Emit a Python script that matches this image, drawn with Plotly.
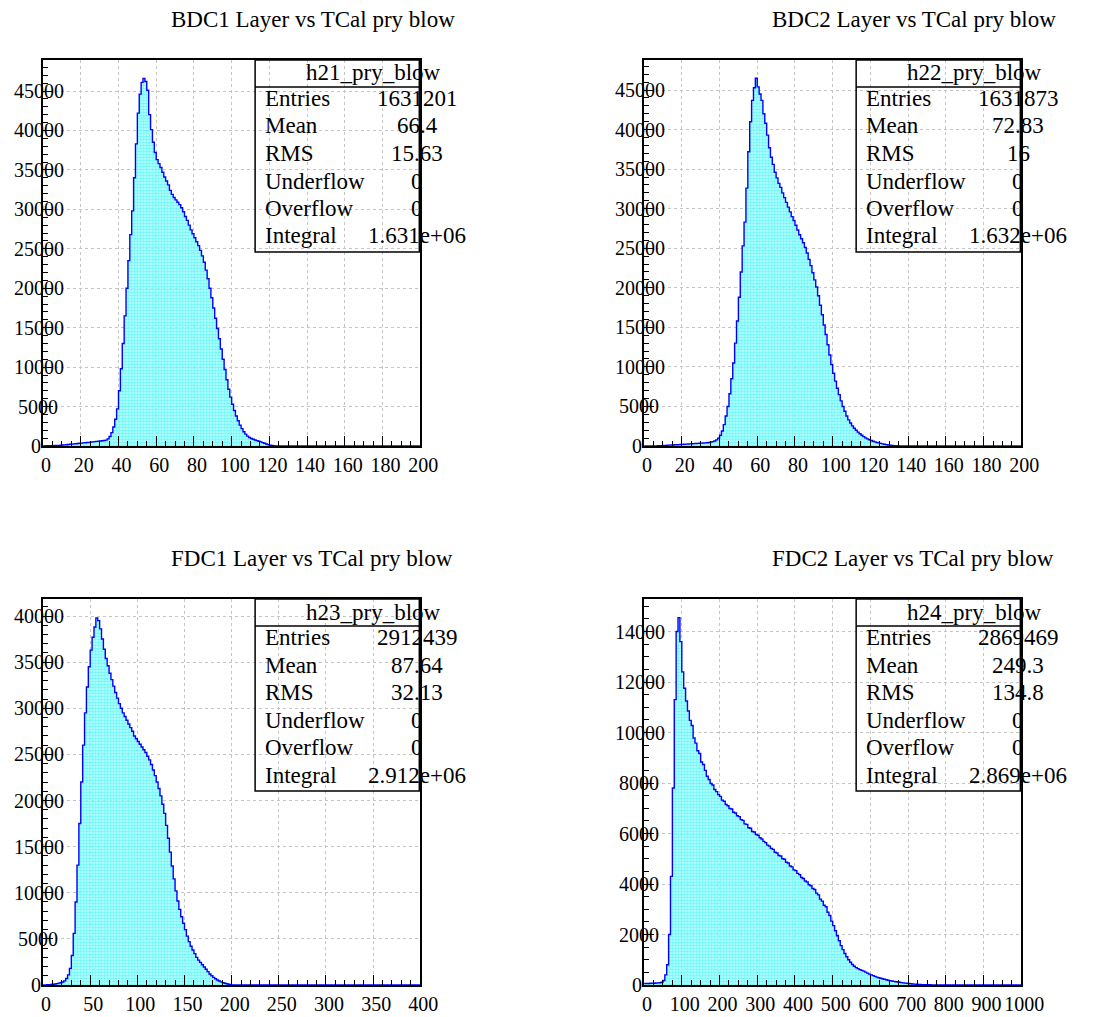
import plotly.graph_objects as go

W, H = 1101, 1017

# ---------------- histogram contents ----------------
# BDC1: 200 bins of width 1 over [0, 200)
bdc1_counts = [
    20, 25, 30, 35, 40, 50, 60, 70, 85, 100,
    120, 140, 165, 190, 215, 240, 265, 290, 315, 340,
    365, 390, 415, 440, 465, 490, 520, 550, 580, 620,
    640, 660, 690, 740, 900, 1200, 1700, 2400, 3400, 4700,
    7000, 9800, 13000, 16500, 20000, 23500, 26800, 29800, 34000, 38300,
    42200, 44600, 46100, 46600, 46200, 45100, 42000, 40100, 38500, 37200,
    36300, 35800, 35300, 34700, 34100, 33600, 33100, 32400, 31900, 31500,
    31200, 30900, 30600, 30200, 29700, 29100, 28600, 28000, 27400, 26900,
    26400, 25900, 25400, 24800, 24100, 23300, 22300, 21200, 20000, 18800,
    17500, 16200, 14900, 13600, 12300, 11000, 9700, 8400, 7200, 6200,
    5300, 4500, 3800, 3200, 2650, 2200, 1800, 1500, 1250, 1080,
    950, 850, 760, 680, 600, 520, 430, 340, 250, 170,
    100, 55, 30, 15, 8, 5, 3, 2, 1, 0,
    0, 0, 0, 0, 0, 0, 0, 0, 0, 0,
    0, 0, 0, 0, 0, 0, 0, 0, 0, 0,
    0, 0, 0, 0, 0, 0, 0, 0, 0, 0,
    0, 0, 0, 0, 0, 0, 0, 0, 0, 0,
    0, 0, 0, 0, 0, 0, 0, 0, 0, 0,
    0, 0, 0, 0, 0, 0, 0, 0, 0, 0,
    0, 0, 0, 0, 0, 0, 0, 0, 0, 0,
]

# BDC2: 200 bins of width 1 over [0, 200)
bdc2_counts = [
    0, 0, 0, 5, 10, 15, 20, 30, 40, 50,
    60, 75, 90, 105, 120, 135, 150, 165, 180, 195,
    210, 225, 240, 255, 270, 285, 300, 315, 330, 345,
    360, 380, 400, 420, 450, 490, 550, 640, 780, 1000,
    1350, 1900, 2700, 3800, 5000, 6600, 8500, 10500, 13000, 15800,
    18800, 22000, 25300, 28300, 32600, 37200, 41000, 43700, 45300, 46500,
    45400, 44500, 43700, 42000, 40800, 39300, 37700, 36500, 35600, 34600,
    33900, 33200, 32700, 32000, 31400, 30800, 30200, 29600, 29000, 28500,
    27900, 27300, 26700, 26200, 25700, 25100, 24400, 23600, 22800, 21900,
    21000, 20100, 19000, 17800, 16600, 15300, 14100, 12800, 11500, 10300,
    9200, 8200, 7300, 6500, 5700, 5000, 4400, 3800, 3300, 2900,
    2550, 2250, 2000, 1750, 1550, 1350, 1180, 1030, 900, 790,
    690, 600, 520, 450, 390, 330, 270, 220, 170, 130,
    95, 65, 40, 25, 15, 8, 4, 2, 1, 0,
    0, 0, 0, 0, 0, 0, 0, 0, 0, 0,
    0, 0, 0, 0, 0, 0, 0, 0, 0, 0,
    0, 0, 0, 0, 0, 0, 0, 0, 0, 0,
    0, 0, 0, 0, 0, 0, 0, 0, 0, 0,
    0, 0, 0, 0, 0, 0, 0, 0, 0, 0,
    0, 0, 0, 0, 0, 0, 0, 0, 0, 0,
]

# FDC1: 200 bins of width 2 over [0, 400)
fdc1_counts = [
    0, 0, 20, 40, 60, 80, 110, 150, 200, 250,
    320, 450, 700, 1100, 1800, 3200, 5600, 9000, 13000, 17500,
    22000, 26000, 29500, 32300, 34500, 36300, 37700, 38800, 39800, 39500,
    38600, 37500, 36400, 35400, 34600, 33800, 33100, 32400, 31700, 31100,
    30500, 30000, 29500, 29100, 28700, 28300, 27900, 27500, 27000, 26700,
    26400, 26100, 25800, 25500, 25200, 24800, 24400, 23900, 23300, 22700,
    22000, 21300, 20500, 19600, 18600, 17300, 15900, 14400, 12900, 11500,
    10200, 9100, 8200, 7400, 6700, 6000, 5300, 4700, 4200, 3800,
    3400, 3000, 2700, 2450, 2200, 1950, 1700, 1450, 1200, 1000,
    830, 680, 550, 440, 340, 260, 190, 130, 80, 40,
    0, 0, 0, 0, 0, 0, 0, 0, 0, 0,
    0, 0, 0, 0, 0, 0, 0, 0, 0, 0,
    0, 0, 0, 0, 0, 0, 0, 0, 0, 0,
    0, 0, 0, 0, 0, 0, 0, 0, 0, 0,
    0, 0, 0, 0, 0, 0, 0, 0, 0, 0,
    0, 0, 0, 0, 0, 0, 0, 0, 0, 0,
    0, 0, 0, 0, 0, 0, 0, 0, 0, 0,
    0, 0, 0, 0, 0, 0, 0, 0, 0, 0,
    0, 0, 0, 0, 0, 0, 0, 0, 0, 0,
    0, 0, 0, 0, 0, 0, 0, 0, 0, 0,
]

# FDC2: 200 bins of width 5 over [0, 1000)
fdc2_counts = [
    60, 65, 60, 70, 75, 70, 80, 85, 90, 110,
    180, 400, 800, 2000, 4300, 7800, 11300, 14000, 14550, 13600,
    12400, 11750, 11250, 10850, 10480, 10280, 9780, 9580, 9280, 9170,
    8830, 8730, 8500, 8270, 8140, 7980, 7920, 7740, 7660, 7540,
    7470, 7320, 7280, 7150, 7100, 6990, 6970, 6840, 6810, 6700,
    6670, 6550, 6520, 6380, 6360, 6230, 6210, 6080, 6060, 5960,
    5930, 5830, 5780, 5690, 5640, 5540, 5500, 5410, 5370, 5260,
    5230, 5130, 5110, 5000, 4980, 4860, 4830, 4710, 4680, 4560,
    4530, 4420, 4370, 4260, 4220, 4120, 4080, 3970, 3930, 3820,
    3780, 3640, 3570, 3400, 3320, 3160, 3100, 2880, 2750, 2530,
    2350, 2150, 1950, 1750, 1560, 1400, 1250, 1120, 1000, 900,
    810, 740, 690, 650, 610, 580, 550, 510, 470, 430,
    400, 370, 340, 310, 290, 270, 250, 230, 210, 190,
    175, 160, 145, 130, 120, 110, 95, 85, 75, 70,
    60, 50, 40, 35, 30, 25, 20, 15, 12, 10,
    8, 7, 6, 5, 4, 4, 3, 3, 2, 2,
    0, 0, 0, 0, 0, 0, 0, 0, 0, 0,
    0, 0, 0, 0, 0, 0, 0, 0, 0, 0,
    0, 0, 0, 0, 0, 0, 0, 0, 0, 0,
    0, 0, 0, 0, 0, 0, 0, 0, 0, 0,
]

# ---------------- axis ticks ----------------
bdc_x_ticks = [0, 20, 40, 60, 80, 100, 120, 140, 160, 180, 200]
fdc1_x_ticks = [0, 50, 100, 150, 200, 250, 300, 350, 400]
fdc2_x_ticks = [0, 100, 200, 300, 400, 500, 600, 700, 800, 900, 1000]
bdc_y_ticks = [0, 5000, 10000, 15000, 20000, 25000, 30000, 35000, 40000, 45000]
fdc1_y_ticks = [0, 5000, 10000, 15000, 20000, 25000, 30000, 35000, 40000]
fdc2_y_ticks = [0, 2000, 4000, 6000, 8000, 10000, 12000, 14000]

# ---------------- titles and statistics ----------------
titles = [
    "BDC1 Layer vs TCal pry blow",
    "BDC2 Layer vs TCal pry blow",
    "FDC1 Layer vs TCal pry blow",
    "FDC2 Layer vs TCal pry blow",
]
hist_names = ["h21_pry_blow", "h22_pry_blow", "h23_pry_blow", "h24_pry_blow"]
stat_labels = ["Entries", "Mean", "RMS", "Underflow", "Overflow", "Integral"]
stat_values = [
    ["1631201", "66.4", "15.63", "0", "0", "1.631e+06"],
    ["1631873", "72.83", "16", "0", "0", "1.632e+06"],
    ["2912439", "87.64", "32.13", "0", "0", "2.912e+06"],
    ["2869469", "249.3", "134.8", "0", "0", "2.869e+06"],
]

# ---------------- pad layout (pixels) ----------------
panels = [
    dict(counts=bdc1_counts, lo=0, width=1, xr=200, ymax=48930,
         xt=bdc_x_ticks, xminor=5, yt=bdc_y_ticks, yminor=1000,
         frame=(42, 428, 60, 446)),
    dict(counts=bdc2_counts, lo=0, width=1, xr=200, ymax=48800,
         xt=bdc_x_ticks, xminor=5, yt=bdc_y_ticks, yminor=1000,
         frame=(657, 1043, 60, 446)),
    dict(counts=fdc1_counts, lo=0, width=2, xr=400, ymax=41843,
         xt=fdc1_x_ticks, xminor=10, yt=fdc1_y_ticks, yminor=1000,
         frame=(42, 428, 599, 985)),
    dict(counts=fdc2_counts, lo=0, width=5, xr=1000, ymax=15287,
         xt=fdc2_x_ticks, xminor=25, yt=fdc2_y_ticks, yminor=500,
         frame=(657, 1043, 599, 985)),
]

SERIF = "Liberation Serif"


def px(x):
    return x / W


def py(y):
    return 1 - y / H


fig = go.Figure()
annotations = []
shapes = []
layout_axes = {}

for i, p in enumerate(panels):
    n = i + 1
    xa = "x" if n == 1 else f"x{n}"
    ya = "y" if n == 1 else f"y{n}"
    xkey = "xaxis" if n == 1 else f"xaxis{n}"
    ykey = "yaxis" if n == 1 else f"yaxis{n}"
    left, right, top, bottom = p["frame"]

    counts = p["counts"]
    edges = [p["lo"] + k * p["width"] for k in range(len(counts) + 1)]
    # stepped outline with a dotted cyan hatch underneath
    fig.add_trace(go.Scatter(
        x=edges, y=counts + [counts[-1]],
        mode="lines",
        line=dict(color="#0000ff", width=1.4, shape="hv"),
        fill="tozeroy",
        fillpattern=dict(shape=".", size=3, solidity=0.55,
                         fgcolor="#20f0f0", bgcolor="rgba(170,255,255,0.75)"),
        xaxis=xa, yaxis=ya, hoverinfo="skip", showlegend=False,
    ))

    common = dict(
        showline=True, linewidth=2, linecolor="black", mirror=True,
        showgrid=True, gridcolor="#c4c4c4", griddash="dot", gridwidth=1,
        zeroline=False, ticks="inside", ticklen=10, tickwidth=1,
        tickcolor="black", layer="above traces", fixedrange=True,
    )
    layout_axes[xkey] = dict(
        common,
        domain=[px(left), px(right)], range=[0, p["xr"]],
        anchor=ya, tickmode="array", tickvals=p["xt"],
        ticktext=[str(v) for v in p["xt"]],
        tickfont=dict(family=SERIF, size=20, color="black"),
        ticklabelshift=3,
        minor=dict(dtick=p["xminor"], tick0=0, ticks="inside", ticklen=5,
                   tickcolor="black", showgrid=False),
    )
    layout_axes[ykey] = dict(
        common,
        domain=[py(bottom), py(top)], range=[0, p["ymax"]],
        anchor=xa, tickmode="array", tickvals=p["yt"],
        showticklabels=False,
        minor=dict(dtick=p["yminor"], tick0=0, ticks="inside", ticklen=5,
                   tickcolor="black", showgrid=False),
    )

    # y tick labels, left-anchored just left of the axis
    for v in p["yt"]:
        s = str(v)
        annotations.append(dict(
            text=s, xref=f"{xa} domain", yref=ya, x=0, y=v,
            xanchor="left", yanchor="middle", xshift=-(9.7 + 4.33 * len(s)),
            showarrow=False, font=dict(family=SERIF, size=20, color="black"),
        ))

    # pad title
    annotations.append(dict(
        text=titles[i], xref="paper", yref="paper",
        x=px(left + 129), y=py(top - 41),
        xanchor="left", yanchor="middle", showarrow=False,
        font=dict(family=SERIF, size=23, color="black"),
    ))

    # statistics box
    bl, br = left + 217, right - 1
    bt, bb = top, top + 192
    shapes.append(dict(type="rect", xref="paper", yref="paper",
                       x0=px(bl), x1=px(br), y0=py(bb), y1=py(bt),
                       line=dict(color="black", width=1.5), layer="above"))
    shapes.append(dict(type="line", xref="paper", yref="paper",
                       x0=px(bl), x1=px(br), y0=py(bt + 27), y1=py(bt + 27),
                       line=dict(color="black", width=1.5), layer="above"))
    annotations.append(dict(
        text=hist_names[i], xref="paper", yref="paper",
        x=px(br - 47), y=py(bt + 13), xanchor="center", yanchor="middle",
        showarrow=False, font=dict(family=SERIF, size=23, color="black"),
    ))
    for k, lab in enumerate(stat_labels):
        yc = bt + 38.5 + 27.5 * k
        annotations.append(dict(
            text=lab, xref="paper", yref="paper", x=px(bl + 8), y=py(yc),
            xanchor="left", yanchor="middle", showarrow=False,
            font=dict(family=SERIF, size=23, color="black"),
        ))
        annotations.append(dict(
            text=stat_values[i][k], xref="paper", yref="paper",
            x=px(br - 2), y=py(yc), xanchor="center", yanchor="middle",
            showarrow=False, font=dict(family=SERIF, size=23, color="black"),
        ))

fig.update_layout(
    width=W, height=H, autosize=False,
    margin=dict(l=0, r=0, t=0, b=0),
    paper_bgcolor="white", plot_bgcolor="white",
    annotations=annotations, shapes=shapes,
    showlegend=False,
    **layout_axes,
)

fig.write_html("out.html")
